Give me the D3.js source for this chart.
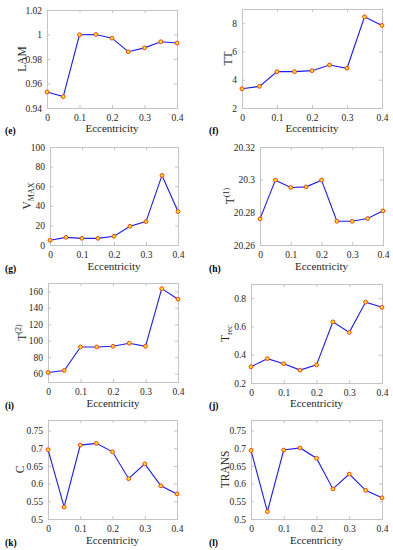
<!DOCTYPE html>
<html>
<head>
<meta charset="utf-8">
<script src="https://cdn.jsdelivr.net/npm/d3@7"></script>
<style>
  body { margin: 0; background: #fff; }
  #chart text { font-family: "Liberation Serif", "DejaVu Serif", serif !important; }
</style>
</head>
<body>
<div id="chart"></div>
<script>
const ecc = [0, 0.05, 0.1, 0.15, 0.2, 0.25, 0.3, 0.35, 0.4];
const xTicks = [0, 0.1, 0.2, 0.3, 0.4];

const lam = [0.9531, 0.9493, 0.9998, 1.0, 0.997, 0.9859, 0.9891, 0.9941, 0.993];
const tt = [3.36, 3.53, 4.57, 4.57, 4.64, 5.04, 4.81, 8.45, 7.84];
const vmax = [4.8, 7.8, 6.8, 6.8, 8.9, 19.1, 23.9, 71, 34.1];
const t1 = [20.276, 20.2997, 20.2952, 20.2956, 20.2997, 20.2745, 20.2745, 20.2762, 20.2809];
const t2 = [61.6, 64, 92.5, 92.5, 93.3, 97, 93.3, 163.2, 150.4];
const trec = [0.315, 0.372, 0.336, 0.291, 0.328, 0.632, 0.558, 0.772, 0.735];
const cVals = [0.696, 0.534, 0.709, 0.714, 0.69, 0.614, 0.656, 0.594, 0.571];
const trans = [0.694, 0.521, 0.695, 0.701, 0.672, 0.585, 0.627, 0.581, 0.56];

const lamTicks = [0.94, 0.96, 0.98, 1, 1.02];
const ttTicks = [2, 4, 6, 8];
const vmaxTicks = [0, 20, 40, 60, 80, 100];
const t1Ticks = [20.26, 20.28, 20.3, 20.32];
const t2Ticks = [60, 80, 100, 120, 140, 160];
const trecTicks = [0.2, 0.4, 0.6, 0.8];
const cTicks = [0.5, 0.55, 0.6, 0.65, 0.7, 0.75];

const panels = [
  { tag: "(e)", label: [["LAM"]], vals: lam, dom: [0.94, 1.02], ticks: lamTicks, fmt: d => +d.toFixed(2),
    box: [47, 177, 10, 108], lx: 22, tagX: 5, lblY: 128 },
  { tag: "(f)", label: [["TT"]], vals: tt, dom: [2, 9], ticks: ttTicks, fmt: d => d,
    box: [242, 382, 9, 108], lx: 228, tagX: 209, lblY: 128 },
  { tag: "(g)", label: [["V"], ["MAX", "sub"]], vals: vmax, dom: [0, 100], ticks: vmaxTicks, fmt: d => d,
    box: [50, 178, 147, 245], lx: 27, tagX: 5, lblY: 266 },
  { tag: "(h)", label: [["T"], ["(1)", "sup"]], vals: t1, dom: [20.26, 20.32], ticks: t1Ticks, fmt: d => +d.toFixed(2),
    box: [260, 383, 147, 245], lx: 230, tagX: 209, lblY: 266 },
  { tag: "(i)", label: [["T"], ["(2)", "sup"]], vals: t2, dom: [50, 170], ticks: t2Ticks, fmt: d => d,
    box: [48, 178, 283, 382], lx: 22, tagX: 5, lblY: 403 },
  { tag: "(j)", label: [["T"], ["rec", "sub"]], vals: trec, dom: [0.2, 0.9], ticks: trecTicks, fmt: d => +d.toFixed(1),
    box: [251, 382, 284, 383], lx: 225, tagX: 209, lblY: 403 },
  { tag: "(k)", label: [["C"]], vals: cVals, dom: [0.5, 0.78], ticks: cTicks, fmt: d => +d.toFixed(2),
    box: [48, 177, 420, 519], lx: 20, tagX: 5, lblY: 540 },
  { tag: "(l)", label: [["TRANS"]], vals: trans, dom: [0.5, 0.78], ticks: cTicks, fmt: d => +d.toFixed(2),
    box: [251, 382, 420, 519], lx: 225, tagX: 209, lblY: 540 }
];

const svg = d3.select("#chart").append("svg")
  .attr("width", 393)
  .attr("height", 550);

const boxCol = "#c4c4c4";

const styleAxis = a => {
  a.attr("font-family", null);
  a.select(".domain").attr("stroke", boxCol);
  a.selectAll(".tick line").attr("stroke", boxCol);
  a.selectAll("text").attr("font-size", 9.5).attr("fill", "#262626");
};

panels.forEach(p => {
  const [x0, x1, y0, y1] = p.box;
  const xSc = d3.scaleLinear().domain([0, 0.4]).range([x0, x1]);
  const ySc = d3.scaleLinear().domain(p.dom).range([y1, y0]);
  const g = svg.append("g");

  g.append("g")
    .attr("transform", `translate(0,${y1})`)
    .call(d3.axisBottom(xSc).tickValues(xTicks).tickSize(-3).tickPadding(6).tickFormat(d => +d.toFixed(1)))
    .call(styleAxis);

  g.append("g")
    .attr("transform", `translate(0,${y0})`)
    .call(d3.axisTop(xSc).tickValues(xTicks).tickSize(-3).tickFormat(""))
    .call(styleAxis);

  g.append("g")
    .attr("transform", `translate(${x0},0)`)
    .call(d3.axisLeft(ySc).tickValues(p.ticks).tickSize(-3).tickPadding(5).tickFormat(p.fmt))
    .call(styleAxis);

  g.append("g")
    .attr("transform", `translate(${x1},0)`)
    .call(d3.axisRight(ySc).tickValues(p.ticks).tickSize(-3).tickFormat(""))
    .call(styleAxis);

  const pts = ecc.map((e, i) => [e, p.vals[i]]);

  g.append("path")
    .datum(pts)
    .attr("fill", "none")
    .attr("stroke", "#1a1aff")
    .attr("stroke-width", 1.1)
    .attr("d", d3.line().x(d => xSc(d[0])).y(d => ySc(d[1])));

  g.selectAll(".dot")
    .data(pts)
    .join("circle")
      .attr("class", "dot")
      .attr("cx", d => xSc(d[0]))
      .attr("cy", d => ySc(d[1]))
      .attr("r", 1.9)
      .attr("fill", "#ffee00")
      .attr("stroke", "#ff3a1a")
      .attr("stroke-width", 1);

  g.append("text")
    .attr("x", (x0 + x1) / 2)
    .attr("y", p.lblY + 4)
    .attr("text-anchor", "middle")
    .attr("font-size", 11)
    .attr("fill", "#262626")
    .text("Eccentricity");

  g.append("text")
    .attr("x", p.tagX)
    .attr("y", p.lblY + 6)
    .attr("font-size", 9.5)
    .attr("font-weight", "bold")
    .text(p.tag);

  const yl = g.append("text")
    .attr("transform", `translate(${p.lx + 4},${(y0 + y1) / 2}) rotate(-90)`)
    .attr("text-anchor", "middle")
    .attr("font-size", 11.5)
    .attr("fill", "#262626");
  p.label.forEach(([t, kind]) => {
    const ts = yl.append("tspan").text(t);
    if (kind === "sub") ts.attr("font-size", 8).attr("dy", 3);
    if (kind === "sup") ts.attr("font-size", 8).attr("dy", -5);
  });
});
</script>
</body>
</html>
